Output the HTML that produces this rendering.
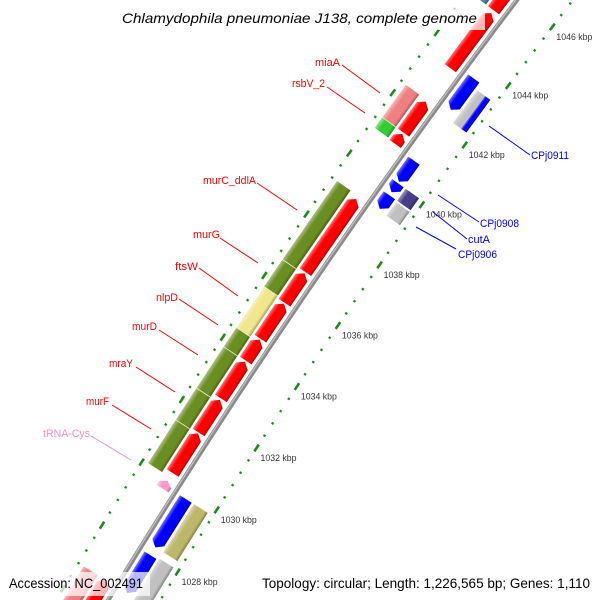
<!DOCTYPE html>
<html><head><meta charset="utf-8"><title>Chlamydophila pneumoniae J138 map</title>
<style>html,body{margin:0;padding:0;background:#fff;overflow:hidden;width:600px;height:600px}svg{display:block;overflow:hidden}text{font-family:"Liberation Sans","DejaVu Sans",sans-serif}</style>
</head><body>
<svg id="map" xmlns="http://www.w3.org/2000/svg" width="600" height="600" viewBox="0 0 600 600">
<defs id="defs"><clipPath id="frame"><rect x="0" y="0" width="600" height="600"/></clipPath></defs>
<rect x="0" y="0" width="600" height="600" fill="#fff"/>
<g clip-path="url(#frame)">
<g id="ticks"></g>
<g id="backbone"></g>
<g id="features"></g>
<g id="labels"></g>
<g id="overlay"></g>
</g>
</svg>
<script>
// ---- data (kbp) ----
const fwdStart = [1025.5, 1029.7, 1030.2, 1031.5, 1032.6, 1033.82, 1034.53, 1035.7, 1036.7, 1040.92, 1041.3, 1043.45, 1045.4];
const fwdEnd   = [1026.8, 1029.95, 1031.47, 1032.55, 1033.78, 1034.5, 1035.67, 1036.66, 1039.1, 1041.25, 1042.33, 1045.3, 1047.2];
const fwdColor = ['#ff0000','#ff99cc','#ff0000','#ff0000','#ff0000','#ff0000','#ff0000','#ff0000','#ff0000','#ff0000','#ff0000','#ff0000','#ff0000'];
const cogFStart = [1025.5, 1030.07, 1031.45, 1032.47, 1033.8, 1034.42, 1035.75, 1036.63, 1040.95, 1041.3, 1045.4];
const cogFEnd   = [1026.8, 1031.45, 1032.47, 1033.8, 1034.42, 1035.75, 1036.63, 1039.2, 1041.3, 1042.38, 1046.8];
const cogFColor = ['#f08080','#6b8e23','#6b8e23','#6b8e23','#6b8e23','#f0e68c','#6b8e23','#6b8e23','#32cd32','#f08080','#4682b4'];
const revStart = [1026.8, 1028.25, 1039.25, 1039.8, 1040.15, 1042.55];
const revEnd   = [1028.0, 1029.8, 1039.7, 1040.1, 1040.85, 1043.6];
const revColor = ['#0000ff','#0000ff','#0000ff','#0000ff','#0000ff','#0000ff'];
const cogRStart = [1026.6, 1028.25, 1039.2, 1039.7, 1042.3];
const cogREnd   = [1028.05, 1029.8, 1039.65, 1040.1, 1043.4];
const cogRColor = ['#c0c0c0','#bdb76b','#c0c0c0','#483d8b','#c0c0c0'];
const tickLabelKbp = [1028, 1030, 1032, 1034, 1036, 1038, 1040, 1042, 1044, 1046];

// ---- geometry ----
const CX = 6250.9, CY = 4344.5, RB = 7194, A0 = -2.5652, K = 0.005143;
function pt(k, t) { const a = A0 + (k - 1032) * K, r = RB - t; return [CX + r * Math.cos(a), CY + r * Math.sin(a)]; }
const NS = 'http://www.w3.org/2000/svg';
function mk(tag, attrs, parent) { const e = document.createElementNS(NS, tag); for (const k in attrs) e.setAttribute(k, attrs[k]); parent.appendChild(e); return e; }
const defs = document.getElementById('defs');
let gid = 0;
function shade(c, f) { const n = parseInt(c.slice(1), 16); let r = n >> 16, g = (n >> 8) & 255, b = n & 255;
  if (f > 0) { r += (255 - r) * f; g += (255 - g) * f; b += (255 - b) * f; } else { r *= 1 + f; g *= 1 + f; b *= 1 + f; }
  return 'rgb(' + Math.round(r) + ',' + Math.round(g) + ',' + Math.round(b) + ')'; }
function grad(s, e, t1, t2, c) {
  const m = (s + e) / 2, p1 = pt(m, t1), p2 = pt(m, t2), id = 'g' + (gid++);
  const g = mk('linearGradient', {id: id, gradientUnits: 'userSpaceOnUse', x1: p1[0], y1: p1[1], x2: p2[0], y2: p2[1]}, defs);
  mk('stop', {offset: '0', 'stop-color': shade(c, 0.45)}, g);
  mk('stop', {offset: '0.3', 'stop-color': c}, g);
  mk('stop', {offset: '0.8', 'stop-color': c}, g);
  mk('stop', {offset: '1', 'stop-color': shade(c, -0.3)}, g);
  return 'url(#' + id + ')';
}
function poly(points, fill, parent, name) {
  const e = mk('polygon', {points: points.map(p => p[0].toFixed(2) + ',' + p[1].toFixed(2)).join(' '), fill: fill}, parent);
  
  
  return e;
}
function feature(s, e, t1, t2, c, dir, parent, name) {
  const tm = (t1 + t2) / 2, fill = grad(s, e, t1, t2, c);
  let P;
  if (dir === 1) { const h = Math.min(0.15, (e - s) / 2); P = [pt(s, t1), pt(e - h, t1), pt(e, tm), pt(e - h, t2), pt(s, t2)]; }
  else if (dir === -1) { const h = Math.min(0.15, (e - s) / 2); P = [pt(s, tm), pt(s + h, t1), pt(e, t1), pt(e, t2), pt(s + h, t2)]; }
  else { P = [pt(s, t1), pt(e, t1), pt(e, t2), pt(s, t2)]; }
  poly(P, fill, parent, name);
}

// ---- tick tracks ----
const tg = document.getElementById('ticks');
[-44.5, 44.5].forEach(function (tt) {
  for (let i = 0; i <= 56; i++) {
    const k = 1025.2 + 0.4 * i;
    const major = Math.abs(k / 2 - Math.round(k / 2)) < 0.01;
    const hl = major ? 0.11 : 0.03;
    const a = pt(k - hl, tt), b = pt(k + hl, tt);
    const ln = mk('line', {x1: a[0], y1: a[1], x2: b[0], y2: b[1], stroke: '#1a8c1a', 'stroke-width': major ? 2.6 : 2.4}, tg);
    
    
  }
});
tickLabelKbp.forEach(function (k) {
  const p = pt(k, 44.5);
  const tx = mk('text', {x: p[0] + 4, y: p[1] + 13, 'font-size': '9.5', fill: '#333', textLength: '36', lengthAdjust: 'spacingAndGlyphs'}, tg);
  tx.textContent = k + ' kbp';
  
  
});

// ---- backbone ----
const bb = document.getElementById('backbone');
function arcPath(t) { let d = ''; for (let k = 1025; k <= 1047.5; k += 0.25) { const p = pt(k, t); d += (d ? 'L' : 'M') + p[0].toFixed(2) + ',' + p[1].toFixed(2); } return d; }
let bl = mk('path', {d: arcPath(0), stroke: '#8a8a8a', 'stroke-width': 4.6, fill: 'none'}, bb);
 
bl = mk('path', {d: arcPath(-0.9), stroke: '#bdbdbd', 'stroke-width': 1.4, fill: 'none'}, bb);
 

// ---- features ----
const fg = document.getElementById('features');
for (let i = 0; i < fwdStart.length; i++) feature(fwdStart[i], fwdEnd[i], -19.5, -5.5, fwdColor[i], 1, fg, 'forward-gene');
for (let i = 0; i < cogFStart.length; i++) feature(cogFStart[i], cogFEnd[i], -38.5, -22, cogFColor[i], 0, fg, 'forward-cog-block');
for (let i = 0; i < cogFStart.length - 1; i++) {
  if (Math.abs(cogFEnd[i] - cogFStart[i + 1]) < 0.02) {
    const a = pt(cogFEnd[i], -38.5), b = pt(cogFEnd[i], -22);
    const ln = mk('line', {x1: a[0], y1: a[1], x2: b[0], y2: b[1], stroke: '#e8f0d0', 'stroke-width': 0.8}, fg);
     
  }
}
for (let i = 0; i < revStart.length; i++) feature(revStart[i], revEnd[i], 5.5, 19.5, revColor[i], -1, fg, 'reverse-gene');
for (let i = 0; i < cogRStart.length; i++) feature(cogRStart[i], cogREnd[i], 22, 38.5, cogRColor[i], 0, fg, 'reverse-cog-block');
feature(1042.3, 1043.4, 32, 38.5, '#0000ff', 0, fg, 'reverse-cog-strip');
</script>
<script>
// ---- labels ----
(function () {
  const NS = 'http://www.w3.org/2000/svg', lg = document.getElementById('labels');
  const L = [
    ['murC_ddlA', 203, 184, 53, '#f00', 257, 183, 297, 210],
    ['murG', 193, 238, 27, '#f00', 220, 238, 258, 263],
    ['ftsW', 175, 270, 23, '#f00', 199, 268, 238, 296],
    ['nlpD', 156, 301, 22, '#f00', 179, 299, 218, 325],
    ['murD', 132, 330, 25, '#f00', 159, 330, 198, 355],
    ['mraY', 109, 367, 24, '#f00', 136, 367, 175, 392],
    ['murF', 86, 405, 23, '#f00', 112, 405, 151, 429],
    ['tRNA-Cys', 43, 437, 47, '#ff8ac8', 91, 436, 131, 460],
    ['miaA', 315, 66, 25, '#f00', 342, 65, 380, 93],
    ['rsbV_2', 292, 87, 33, '#f00', 327, 87, 365, 113],
    ['CPj0911', 531, 159, 38, '#00f', 530, 155, 489, 126],
    ['CPj0908', 480, 227, 39, '#00f', 479, 222, 438, 195],
    ['cutA', 468, 243, 22, '#00f', 467, 239, 433, 212],
    ['CPj0906', 458, 258, 39, '#00f', 456, 249, 416, 227]
  ];
  L.forEach(function (l) {
    const ln = document.createElementNS(NS, 'line');
    ln.setAttribute('x1', l[5]); ln.setAttribute('y1', l[6]); ln.setAttribute('x2', l[7]); ln.setAttribute('y2', l[8]);
    ln.setAttribute('stroke', l[4]); ln.setAttribute('stroke-width', '1');
    
    
    lg.appendChild(ln);
    const t = document.createElementNS(NS, 'text');
    t.setAttribute('x', l[1]); t.setAttribute('y', l[2]); t.setAttribute('font-size', '11');
    t.setAttribute('fill', l[4]); t.setAttribute('textLength', l[3]); t.setAttribute('lengthAdjust', 'spacingAndGlyphs');
    t.textContent = l[0];
    
    
    lg.appendChild(t);
  });
  const og = document.getElementById('overlay');
  function box(x, y, w, h, name) {
    const r = document.createElementNS(NS, 'rect');
    r.setAttribute('x', x); r.setAttribute('y', y); r.setAttribute('width', w); r.setAttribute('height', h);
    r.setAttribute('fill', '#fff'); r.setAttribute('fill-opacity', '0.72');
    
    
    og.appendChild(r);
  }
  function txt(s, x, y, size, len, italic, name) {
    const t = document.createElementNS(NS, 'text');
    t.setAttribute('x', x); t.setAttribute('y', y); t.setAttribute('font-size', size); t.setAttribute('fill', '#000');
    t.setAttribute('textLength', len); t.setAttribute('lengthAdjust', 'spacingAndGlyphs');
    if (italic) t.setAttribute('font-style', 'italic');
    t.textContent = s;
    
    
    og.appendChild(t);
  }
  box(117, 4, 368, 26, 'title-background');
  txt('Chlamydophila pneumoniae J138, complete genome', 122, 23, 14, 355, true, 'map-title');
  box(4, 572, 146, 24, 'accession-background');
  txt('Accession: NC_002491', 9, 588, 14, 134, false, 'accession-text');
  box(257, 572, 337, 24, 'topology-background');
  txt('Topology: circular; Length: 1,226,565 bp; Genes: 1,110', 262, 588, 14, 328, false, 'topology-text');
})();
</script>
</body></html>
